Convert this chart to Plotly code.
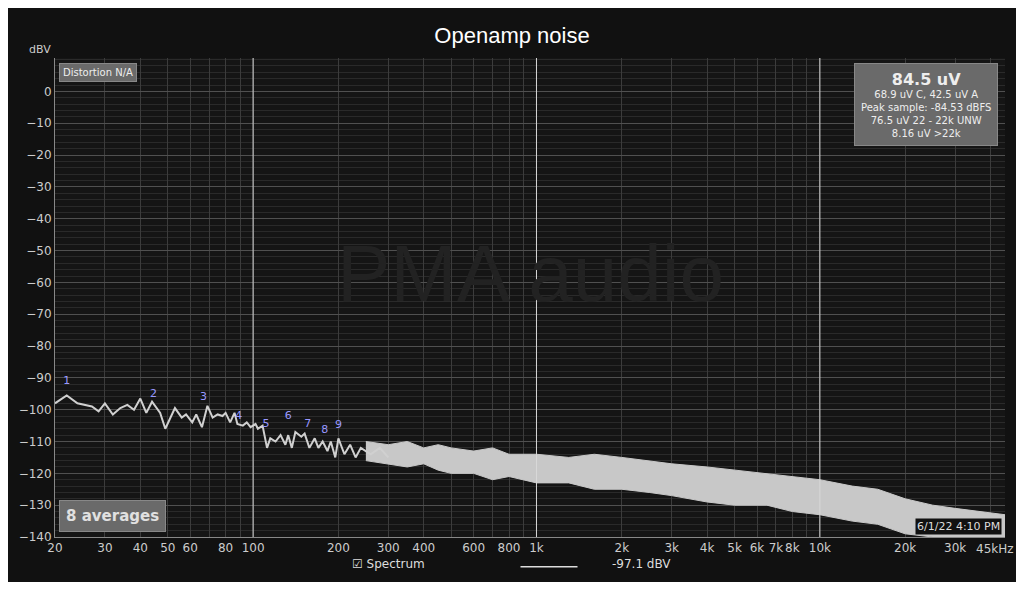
import numpy as np
import plotly.graph_objects as go

# low-frequency part of the spectrum (Hz, dBV)
lf_freq = [20, 22, 24, 27, 28.5, 30, 32, 34, 36, 38, 40, 42, 44, 47, 49, 53, 56, 58, 61, 63,
           66, 69, 72, 75, 78, 80, 83, 86, 88, 92, 95, 98, 102, 104, 108, 112, 115, 120, 125,
           130, 133, 137, 141, 148, 152, 158, 165, 170, 176, 183, 188, 195, 200, 210, 220,
           230, 240, 260, 280, 300]
lf_db = [-98, -95.5, -98, -99, -100.5, -98, -101.5, -99.5, -98.5, -100, -96.5, -101, -97.5,
         -101, -106, -99.5, -102.5, -101.5, -104, -101.5, -105.5, -98.8, -102.5, -101.5, -102,
         -101, -104, -101, -104.5, -105, -104, -105.5, -104.5, -106, -105, -112, -109, -110,
         -108, -111, -108, -112, -107, -108.5, -107.5, -112, -109, -112, -110, -113, -110,
         -115, -109, -114, -111, -115, -112, -114, -112, -115]

# noise band envelope above 250 Hz
band_freq = [250, 300, 350, 400, 450, 500, 600, 700, 800, 1000, 1300, 1600, 2000, 2500, 3000,
             4000, 5000, 6500, 8000, 10000, 13000, 16000, 20000, 25000, 30000, 45000]
band_hi = [-110, -111, -110, -112, -111, -112, -113, -112, -114, -114, -115, -114, -115, -116,
           -117, -118, -119, -120, -121, -122, -124, -125, -128, -130, -131, -133]
band_lo = [-116, -117, -118, -117, -119, -120, -120, -122, -121, -123, -123, -125, -125, -126,
           -127, -129, -130, -130, -132, -133, -135, -136, -139, -140, -140, -140]

# harmonic markers
harm_freq = [22, 44.5, 66.8, 89, 111, 133, 156, 179, 200]
harm_db = [-91, -95, -96, -102, -104.5, -102, -104.5, -106.5, -105]

tick_labels = {20: "20", 30: "30", 40: "40", 50: "50", 60: "60", 80: "80", 100: "100",
               200: "200", 300: "300", 400: "400", 600: "600", 800: "800", 1000: "1k",
               2000: "2k", 3000: "3k", 4000: "4k", 5000: "5k", 6000: "6k", 7000: "7k",
               8000: "8k", 10000: "10k", 20000: "20k", 30000: "30k"}

grid_vals = [d * m for d in [10, 100, 1000, 10000] for m in range(1, 10) if 20 <= d * m <= 45000]
tick_text = [tick_labels.get(v, "") for v in grid_vals]

fig = go.Figure()
fig.add_trace(go.Scatter(x=band_freq, y=band_lo, mode="lines", line=dict(color="#c8c8c8", width=1),
                         showlegend=False, hoverinfo="skip"))
fig.add_trace(go.Scatter(x=band_freq, y=band_hi, mode="lines", line=dict(color="#c8c8c8", width=1),
                         fill="tonexty", fillcolor="#c8c8c8", showlegend=False, hoverinfo="skip"))
fig.add_trace(go.Scatter(x=lf_freq, y=lf_db, mode="lines", line=dict(color="#d0d0d0", width=2),
                         showlegend=False))
fig.add_trace(go.Scatter(x=harm_freq, y=harm_db, mode="text",
                         text=[str(i + 1) for i in range(len(harm_freq))],
                         textfont=dict(color="#9999ff", size=11), showlegend=False))

shapes = [dict(type="line", xref="x", yref="paper", x0=f, x1=f, y0=0, y1=1,
               line=dict(color="#d8d8d8", width=1), layer="above") for f in [100, 1000, 10000]]
shapes.append(dict(type="line", xref="paper", yref="paper", x0=0.49, x1=0.55, y0=-0.062, y1=-0.062,
                   line=dict(color="#dddddd", width=1.5)))
fig.update_layout(shapes=shapes)

fig.update_layout(
    width=1008, height=574,
    paper_bgcolor="#111111", plot_bgcolor="#151515",
    margin=dict(l=37, r=11, t=50, b=45),
    title=dict(text="Openamp noise", x=0.5, y=0.965, font=dict(color="white", size=22, family="Liberation Sans")),
    font=dict(family="DejaVu Sans", color="#cccccc", size=12),
    xaxis=dict(type="log", range=[np.log10(20), np.log10(45000)], tickvals=grid_vals, ticktext=tick_text,
               tickangle=0, showgrid=True, gridcolor="#3c3c3c", zeroline=False, showline=True,
               linecolor="#888", ticks="", tickfont=dict(size=12, color="#cccccc")),
    yaxis=dict(range=[-140, 10.5], tickvals=list(range(-140, 1, 10)), gridcolor="#505050", zeroline=False,
               showline=True, linecolor="#888", tickfont=dict(size=12, color="#cccccc"),
               minor=dict(dtick=2, gridcolor="#2a2a2a", showgrid=True)),
)

fig.add_annotation(text="45kHz", xref="paper", yref="paper", x=1.012, y=-0.006, showarrow=False,
                   xanchor="right", yanchor="top", font=dict(size=12, color="#cccccc"))
fig.add_annotation(text="dBV", xref="paper", yref="paper", x=-0.03, y=1.035, showarrow=False,
                   font=dict(size=11, color="#cccccc"), xanchor="left")
fig.add_annotation(text="PMA audio", xref="paper", yref="paper", x=0.5, y=0.55, showarrow=False,
                   font=dict(size=80, color="#222222", family="Liberation Sans"))
fig.add_annotation(text="Distortion N/A", xref="paper", yref="paper", x=0.004, y=0.99, showarrow=False,
                   xanchor="left", yanchor="top", bgcolor="#6a6a6a", bordercolor="#888", borderpad=3,
                   font=dict(size=10, color="#eeeeee"))
fig.add_annotation(text="<b>8 averages</b>", xref="paper", yref="paper", x=0.004, y=0.01, showarrow=False,
                   xanchor="left", yanchor="bottom", bgcolor="#6a6a6a", bordercolor="#888", borderpad=6,
                   font=dict(size=15, color="#e0e0e0"))
fig.add_annotation(text="<b><span style='font-size:16px'>84.5 uV</span></b><br>68.9 uV C, 42.5 uV A<br>"
                        "Peak sample: -84.53 dBFS<br>76.5 uV 22 - 22k UNW<br>8.16 uV >22k",
                   xref="paper", yref="paper", x=0.993, y=0.99, showarrow=False, xanchor="right",
                   yanchor="top", bgcolor="#6a6a6a", bordercolor="#888", borderpad=6, align="center",
                   font=dict(size=10, color="#eeeeee"))
fig.add_annotation(text="6/1/22 4:10 PM", xref="paper", yref="paper", x=0.997, y=0.005, showarrow=False,
                   xanchor="right", yanchor="bottom", font=dict(size=11, color="#dddddd"), bgcolor="#111111")
fig.add_annotation(text="\u2611 Spectrum", xref="paper", yref="paper", x=0.31, y=-0.075, showarrow=False,
                   xanchor="left", font=dict(size=12, color="#dddddd"))
fig.add_annotation(text="-97.1 dBV", xref="paper", yref="paper", x=0.584, y=-0.075, showarrow=False,
                   xanchor="left", font=dict(size=12, color="#dddddd"))

fig.write_html("out.html")
